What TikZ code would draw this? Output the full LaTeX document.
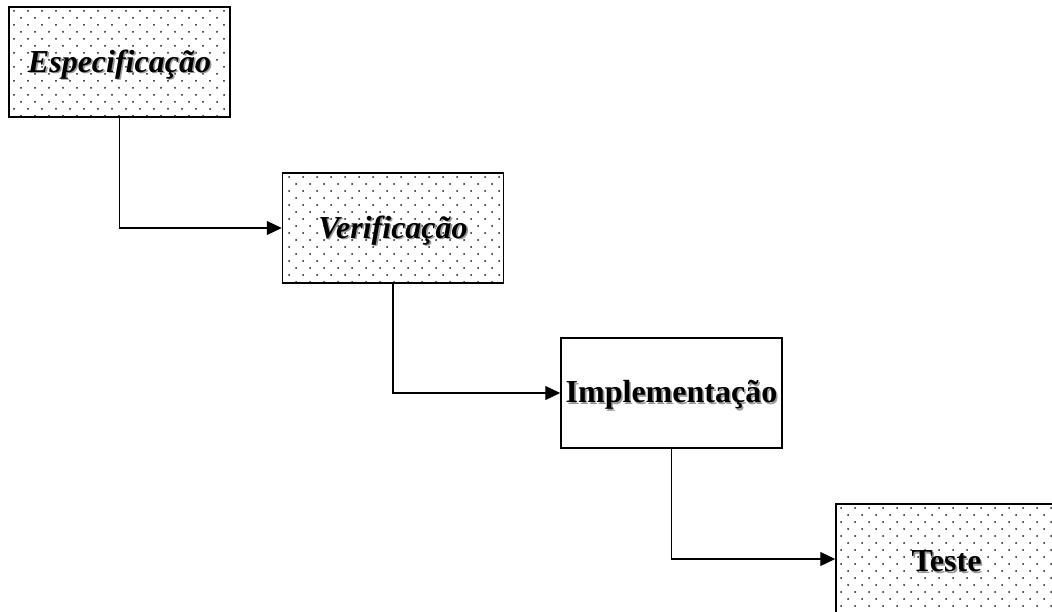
\documentclass[tikz,border=0pt]{standalone}
\usepackage{fontspec}
\setmainfont{Liberation Serif}
\usetikzlibrary{arrows.meta}
% text with a soft grey drop shadow, set a little low in its box
\newcommand\shadowed[1]{\raisebox{-3pt}[\height][\depth]{\rlap{\kern1.6pt\raisebox{-1.6pt}{\textcolor{black!40}{#1}}}#1}}
% staggered dot screen clipped to a rectangle: x0, y0, x1, y1
\newcommand\dotscreen[4]{%
  \begin{scope}
    \clip (#1,#2) rectangle (#3,#4);
    \foreach \j in {0,...,16}{%
      \foreach \i in {0,...,16}{%
        \fill[black!90] ({#1+5+14*\i+7*mod(\j,2)},{#2+4+7*\j}) circle (1.0);
      }%
    }%
  \end{scope}%
}
\begin{document}
\begin{tikzpicture}[x=1pt,y=-1pt,
  stage/.style={draw, line width=1.5pt, minimum width=221pt, minimum height=110pt,
    inner sep=0pt, font=\fontsize{32}{36}\selectfont\bfseries},
  slanted/.style={font=\fontsize{32}{36}\selectfont\bfseries\itshape},
  flow/.style={line width=1.2pt, -{Triangle[length=15pt,width=14pt]}}]
\useasboundingbox (0,0) rectangle (1052,612);
\clip (0,0) rectangle (1052,612);

% dotted fills
\dotscreen{9}{7}{230}{117}
\dotscreen{284}{173}{502}{283}
\dotscreen{836}{504}{1057}{614}

% stages
\node[stage, slanted] (spec)  at (119.5,62)  {\shadowed{Especificação}};
\node[stage, slanted] (verif) at (393,228)   {\shadowed{Verificação}};
\node[stage]          (impl)  at (671.5,393) {\shadowed{Implementação}};
\node[stage]          (test)  at (946.5,559) {\shadowed{Teste}};

% flow between stages
\draw[flow] (spec.south)  |- (verif.west);
\draw[flow] (verif.south) |- (impl.west);
\draw[flow] (impl.south)  |- (test.west);
\end{tikzpicture}
\end{document}
